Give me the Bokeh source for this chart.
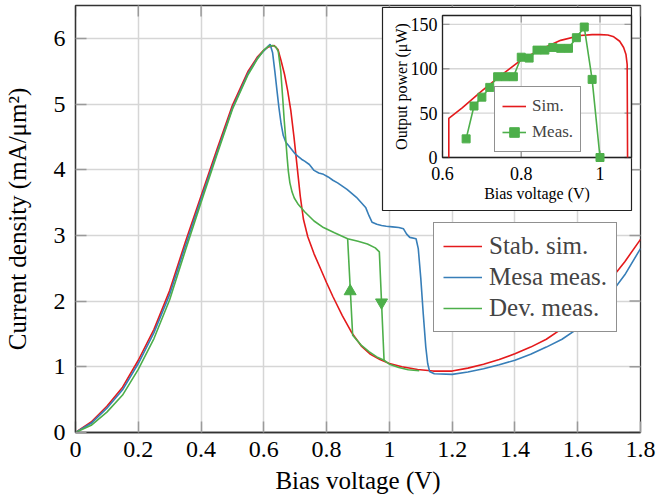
import math
from bokeh.plotting import figure
from bokeh.models import Range1d, FixedTicker, Legend, LegendItem
from bokeh.core.properties import value
from bokeh.embed import file_html
from bokeh.resources import INLINE

FONT = "'Liberation Serif', 'Times New Roman', Times, serif"
RED = "#e41a1c"
BLUE = "#377eb8"
GREEN = "#4daf4a"

# ---------------- main chart data ----------------
sim_x = [0, 0.05, 0.1, 0.15, 0.2, 0.25, 0.3, 0.35, 0.4, 0.45, 0.5, 0.55, 0.58, 0.6, 0.615,
         0.633, 0.645, 0.655, 0.666, 0.676, 0.686, 0.696, 0.706, 0.716, 0.726, 0.74, 0.76,
         0.78, 0.8, 0.82, 0.85, 0.88, 0.91, 0.94, 0.97, 1.0, 1.04, 1.09, 1.14, 1.2, 1.25,
         1.3, 1.35, 1.4, 1.45, 1.5, 1.55, 1.6, 1.65, 1.7, 1.75, 1.8]
sim_y = [0, 0.16, 0.4, 0.69, 1.1, 1.57, 2.16, 2.9, 3.6, 4.3, 4.98, 5.5, 5.72, 5.82, 5.87,
         5.89, 5.83, 5.66, 5.45, 5.2, 4.9, 4.5, 4.05, 3.6, 3.25, 2.98, 2.72,
         2.5, 2.28, 2.07, 1.78, 1.52, 1.32, 1.19, 1.11, 1.05, 1.0, 0.96, 0.935, 0.935, 0.98,
         1.04, 1.11, 1.2, 1.3, 1.42, 1.58, 1.8, 2.05, 2.3, 2.6, 2.94]

mesa_x = [0, 0.05, 0.1, 0.15, 0.2, 0.25, 0.3, 0.35, 0.4, 0.45, 0.5, 0.55, 0.58, 0.6, 0.612,
          0.62, 0.628, 0.635, 0.642, 0.648, 0.655, 0.662, 0.67, 0.68, 0.69, 0.7, 0.71, 0.72,
          0.73, 0.745, 0.76, 0.775, 0.79, 0.805, 0.82, 0.835, 0.85, 0.865, 0.88, 0.895, 0.91,
          0.925, 0.935, 0.945, 0.96, 0.975, 0.99, 1.01, 1.03, 1.045, 1.055, 1.065, 1.085,
          1.092, 1.1, 1.108, 1.116, 1.122, 1.128, 1.143, 1.2, 1.25, 1.3, 1.35, 1.4, 1.45,
          1.5, 1.55, 1.6, 1.65, 1.7, 1.75, 1.8]
mesa_y = [0, 0.14, 0.37, 0.65, 1.05, 1.52, 2.1, 2.84, 3.55, 4.25, 4.94, 5.47, 5.7, 5.81, 5.87,
          5.91, 5.78, 5.5, 5.2, 4.95, 4.7, 4.52, 4.42, 4.36, 4.3, 4.24, 4.2, 4.16,
          4.13, 4.08, 3.99, 3.95, 3.93, 3.89, 3.84, 3.8, 3.75, 3.7, 3.64, 3.58, 3.5,
          3.42, 3.3, 3.2, 3.17, 3.15, 3.14, 3.13, 3.12, 3.1, 3.02, 2.97, 2.95,
          2.8, 2.35, 1.8, 1.3, 1.05, 0.93, 0.895, 0.885, 0.92, 0.97, 1.03, 1.1, 1.19,
          1.3, 1.42, 1.58, 1.82, 2.08, 2.4, 2.8]

# device measurement: forward sweep, and return branch of the hysteresis loop
dev_x = [0, 0.05, 0.1, 0.15, 0.2, 0.25, 0.3, 0.35, 0.4, 0.45, 0.5, 0.55, 0.58, 0.6, 0.615,
         0.628, 0.638, 0.646, 0.654, 0.66, 0.665, 0.67, 0.674, 0.678, 0.683, 0.69, 0.697,
         0.71, 0.73, 0.76, 0.79, 0.825, 0.867, 0.9, 0.93, 0.955, 0.968, 0.983, 1.0, 1.03,
         1.06, 1.095]
dev_y = [0, 0.11, 0.31, 0.57, 0.96, 1.43, 2.02, 2.77, 3.5, 4.22, 4.92, 5.45, 5.69, 5.82, 5.88,
         5.89, 5.87, 5.8, 5.5, 5.1, 4.75, 4.45, 4.2, 3.98, 3.8, 3.66, 3.57,
         3.47, 3.36, 3.22, 3.12, 3.04, 2.95, 2.91, 2.87, 2.81, 2.75, 1.1, 1.04, 0.99,
         0.955, 0.94]
dev_ret_x = [0.983, 0.96, 0.935, 0.91, 0.883, 0.867]
dev_ret_y = [1.1, 1.15, 1.23, 1.33, 1.48, 2.95]
arrow_up_x, arrow_up_y = [0.875], [2.15]
arrow_dn_x, arrow_dn_y = [0.975], [1.98]

x_ticks = [0, 0.2, 0.4, 0.6, 0.8, 1, 1.2, 1.4, 1.6, 1.8]
x_tick_labels = ["0", "0.2", "0.4", "0.6", "0.8", "1", "1.2", "1.4", "1.6", "1.8"]
y_ticks = [0, 1, 2, 3, 4, 5, 6]
y_tick_labels = ["0", "1", "2", "3", "4", "5", "6"]
x_min, x_max, y_min, y_max = 0, 1.8, 0, 6.5

# ---------------- inset data ----------------
pw_sim_x = [0.616, 0.616, 0.65, 0.7, 0.75, 0.8, 0.85, 0.9, 0.95, 0.98, 1.0, 1.02, 1.035,
            1.05, 1.06, 1.066, 1.069, 1.07]
pw_sim_y = [0, 44, 56, 75, 93, 110, 122, 132, 137.5, 138.5, 138.5, 138, 136,
            131, 124, 116, 105, 0]
pw_meas_x = [0.66, 0.68, 0.70, 0.72, 0.74, 0.76, 0.78, 0.80, 0.82, 0.84, 0.86, 0.88, 0.90,
             0.92, 0.94, 0.96, 0.98, 1.00]
pw_meas_y = [21, 58, 68, 79, 91, 91, 91, 113, 112, 121, 121, 124, 123,
             123, 135, 147, 88, 0]
in_x_ticks = [0.6, 0.8, 1.0]
in_x_tick_labels = ["0.6", "0.8", "1"]
in_y_ticks = [0, 50, 100, 150]
in_y_tick_labels = ["0", "50", "100", "150"]
ix0, ix1, iy0, iy1 = 0.6, 1.08, 0, 160

# ---------------- layout (pixels) ----------------
W, H = 657, 503
FL, FR, FT, FB = 75, 640, 5, 432          # main frame
IL, IR, IT, IB = 442, 631, 15, 157         # inset axes box
BOX_L, BOX_T, BOX_B = 382, 7, 210          # inset white panel

mx_px = (x_max - x_min) / (FR - FL)
my_px = (y_max - y_min) / (FB - FT)
sx = (ix1 - ix0) / (IR - IL)
sy = (iy1 - iy0) / (IB - IT)


def ipx(px):
    return ix0 + (px - IL) * sx


def ipy(py):
    return iy0 + (IB - py) * sy


p = figure(width=W, height=H, x_range=Range1d(x_min, x_max), y_range=Range1d(y_min, y_max),
           output_backend="svg", toolbar_location=None,
           min_border_left=FL, min_border_right=W - FR, min_border_top=FT,
           min_border_bottom=H - FB)
p.extra_x_ranges = {"ix": Range1d(ipx(FL), ipx(FR))}
p.extra_y_ranges = {"iy": Range1d(ipy(FB), ipy(FT))}

p.outline_line_color = "#333333"
p.outline_line_width = 1.3
p.background_fill_color = "white"
p.border_fill_color = "white"

p.xaxis.ticker = FixedTicker(ticks=x_ticks)
p.yaxis.ticker = FixedTicker(ticks=y_ticks)
p.xgrid.ticker = FixedTicker(ticks=x_ticks)
p.ygrid.ticker = FixedTicker(ticks=y_ticks)
p.xaxis.major_label_overrides = dict(zip(x_ticks, x_tick_labels))
p.yaxis.major_label_overrides = dict(zip(y_ticks, y_tick_labels))
for ax in (p.xaxis, p.yaxis):
    ax.major_label_text_font = FONT
    ax.major_label_text_font_size = "24px"
    ax.major_label_text_color = "black"
    ax.axis_label_text_font = FONT
    ax.axis_label_text_font_size = "25px"
    ax.axis_label_text_font_style = "normal"
    ax.axis_label_text_color = "black"
    ax.major_tick_in = 11
    ax.major_tick_out = 0
    ax.major_tick_line_color = "#9a9a9a"
    ax.major_tick_line_width = 1.5
    ax.minor_tick_line_color = None
    ax.axis_line_color = "#333333"
    ax.axis_line_width = 1.3
p.xaxis.axis_label = "Bias voltage (V)"
p.yaxis.axis_label = "Current density (mA/\u03bcm\u00b2)"
p.xaxis.major_label_standoff = 9
p.xaxis.axis_label_standoff = 7
p.yaxis.major_label_standoff = 10
p.yaxis.axis_label_standoff = 20
for g in (p.xgrid, p.ygrid):
    g.grid_line_color = "#d6d6d6"
    g.grid_line_width = 1.5

# mirror ticks on top and right sides
p.segment(x0=x_ticks, y0=[y_max] * len(x_ticks), x1=x_ticks,
          y1=[y_max - 11 * my_px] * len(x_ticks), line_color="#9a9a9a", line_width=1.5)
p.segment(x0=[x_max] * len(y_ticks), y0=y_ticks, x1=[x_max - 11 * mx_px] * len(y_ticks),
          y1=y_ticks, line_color="#9a9a9a", line_width=1.5)

LW = 1.6
r_sim = p.line(sim_x, sim_y, line_color=RED, line_width=LW)
r_mesa = p.line(mesa_x, mesa_y, line_color=BLUE, line_width=LW)
r_dev = p.line(dev_x, dev_y, line_color=GREEN, line_width=LW)
p.line(dev_ret_x, dev_ret_y, line_color=GREEN, line_width=LW)
p.scatter(arrow_up_x, arrow_up_y, marker="triangle", size=12, color=GREEN)
p.scatter(arrow_dn_x, arrow_dn_y, marker="inverted_triangle", size=12, color=GREEN)

legend = Legend(items=[LegendItem(label="Stab. sim.", renderers=[r_sim]),
                       LegendItem(label="Mesa meas.", renderers=[r_mesa]),
                       LegendItem(label="Dev. meas.", renderers=[r_dev])],
                location=(433 - FL, FB - 332), margin=0, padding=9, spacing=3,
                glyph_width=39, glyph_height=28, label_height=28, label_standoff=7,
                label_text_font=FONT, label_text_font_size="25px",
                border_line_color="#222222", border_line_width=1.2,
                background_fill_color="white", background_fill_alpha=1)
p.add_layout(legend)

# ---------------- inset ----------------
kw = dict(x_range_name="ix", y_range_name="iy")
p.quad(left=[ipx(BOX_L)], right=[ix1], top=[ipy(BOX_T)], bottom=[ipy(BOX_B)],
       fill_color="white", line_color="#222222", line_width=1.2, **kw)
# grid
p.segment(x0=in_x_ticks, y0=[iy0] * 3, x1=in_x_ticks, y1=[iy1] * 3,
          line_color="#d6d6d6", line_width=1.3, **kw)
p.segment(x0=[ix0] * 4, y0=in_y_ticks, x1=[ix1] * 4, y1=in_y_ticks,
          line_color="#d6d6d6", line_width=1.3, **kw)
# ticks (inside, all four sides)
TK = 7
p.segment(x0=in_x_ticks, y0=[iy0] * 3, x1=in_x_ticks, y1=[iy0 + TK * sy] * 3,
          line_color="#9a9a9a", line_width=1.3, **kw)
p.segment(x0=in_x_ticks, y0=[iy1] * 3, x1=in_x_ticks, y1=[iy1 - TK * sy] * 3,
          line_color="#9a9a9a", line_width=1.3, **kw)
p.segment(x0=[ix0] * 4, y0=in_y_ticks, x1=[ix0 + TK * sx] * 4, y1=in_y_ticks,
          line_color="#9a9a9a", line_width=1.3, **kw)
p.segment(x0=[ix1] * 4, y0=in_y_ticks, x1=[ix1 - TK * sx] * 4, y1=in_y_ticks,
          line_color="#9a9a9a", line_width=1.3, **kw)
# frame
p.quad(left=[ix0], right=[ix1], top=[iy1], bottom=[iy0], fill_alpha=0,
       line_color="#222222", line_width=1.3, **kw)
# tick labels
p.text(x=in_x_ticks, y=[ipy(IB + 16)] * 3, text=in_x_tick_labels, text_align="center",
       text_baseline="middle", text_font=value(FONT), text_font_size="18px",
       text_color="black", **kw)
p.text(x=[ipx(IL - 5)] * 4, y=in_y_ticks, text=in_y_tick_labels, text_align="right",
       text_baseline="middle", text_font=value(FONT), text_font_size="18px",
       text_color="black", **kw)
# axis labels
p.text(x=[(ix0 + ix1) / 2], y=[ipy(IB + 36)], text=["Bias voltage (V)"], text_align="center",
       text_baseline="middle", text_font=value(FONT), text_font_size="16px",
       text_color="black", **kw)
p.text(x=[ipx(IL - 41)], y=[(iy0 + iy1) / 2], text=["Output power (\u03bcW)"],
       angle=math.pi / 2, text_align="center", text_baseline="middle",
       text_font=value(FONT), text_font_size="16px", text_color="black", **kw)
# curves
r_isim = p.line(pw_sim_x, pw_sim_y, line_color=RED, line_width=LW, **kw)
r_imeas_l = p.line(pw_meas_x, pw_meas_y, line_color=GREEN, line_width=LW, **kw)
r_imeas_m = p.scatter(pw_meas_x, pw_meas_y, marker="square", size=8, color=GREEN, **kw)

in_legend = Legend(items=[LegendItem(label="Sim.", renderers=[r_isim]),
                          LegendItem(label="Meas.", renderers=[r_imeas_l, r_imeas_m])],
                   location=(494 - FL, FB - 152), margin=0, padding=7, spacing=2,
                   glyph_width=24, glyph_height=24, label_height=24, label_standoff=6,
                   label_text_font=FONT, label_text_font_size="17px",
                   border_line_color="#222222", border_line_width=1.2,
                   background_fill_color="white", background_fill_alpha=1)
p.add_layout(in_legend)

open("out.html", "w").write(file_html(p, INLINE))
